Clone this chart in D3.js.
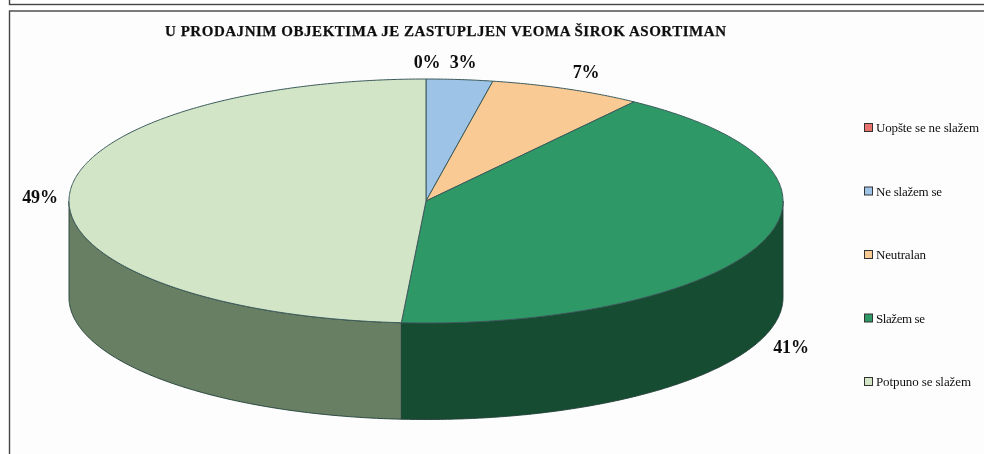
<!DOCTYPE html>
<html><head><meta charset="utf-8">
<script src="https://cdn.jsdelivr.net/npm/d3@7"></script>
<style>html,body{margin:0;padding:0;background:#fff}svg{display:block}text{font-family:"Liberation Serif",serif}</style>
</head><body><svg id="c" width="984" height="454"></svg>
<script>
const title = "U PRODAJNIM OBJEKTIMA JE ZASTUPLJEN VEOMA ŠIROK ASORTIMAN";
const categories = ["Uopšte se ne slažem","Ne slažem se","Neutralan","Slažem se","Potpuno se slažem"];
const values = [0,3,6.9,41.2,48.9];
const labels = ["0%","3%","7%","41%","49%"];
const topColors = ["#e8726c","#9dc3e6","#f9ca94","#2e9966","#d2e5c6"];
const sideColors = ["#8a4340","#5d7589","#957958","#174d31","#677f64"];

const svg = d3.select("#c");
const W=984,H=454;
const defs = svg.append("defs");
const blur = defs.append("filter").attr("id","b").attr("x","-5%").attr("y","-20%").attr("width","110%").attr("height","140%");
blur.append("feGaussianBlur").attr("stdDeviation",0.5);
const soft = defs.append("filter").attr("id","s").attr("x","-2%").attr("y","-2%").attr("width","104%").attr("height","104%");
soft.append("feGaussianBlur").attr("stdDeviation",0.35);

svg.append("rect").attr("width",W).attr("height",H).attr("fill","#fff");
// frames
const frames = svg.append("g").attr("filter","url(#s)");
frames.append("rect").attr("x",9.5).attr("y",-10).attr("width",W).attr("height",14.5).attr("fill","#fff").attr("stroke","#444").attr("stroke-width",1.4);
frames.append("rect").attr("x",9.5).attr("y",11).attr("width",W).attr("height",H+10).attr("fill","#fdfdfd").attr("stroke","#444").attr("stroke-width",1.4);

const x = d3.scaleLinear().domain([-1,1]).range([69,783]);
const y = d3.scaleLinear().domain([-1,1]).range([79,323]);
const depth = 96.5;
const pie = d3.pie().sort(null).value(d=>d);
const arcs = pie(values);
const px = a=>x(Math.sin(a)), py = a=>y(-Math.cos(a));
const line = d3.line();
const sample=(a0,a1)=>{const n=Math.max(2,Math.ceil(Math.abs(a1-a0)/0.01));return d3.range(n+1).map(i=>a0+(a1-a0)*i/n);};
const g = svg.append("g").attr("filter","url(#s)");

// side walls: visible front half, angles from PI/2 to 3PI/2
arcs.forEach((d,i)=>{
  const a0=Math.max(d.startAngle,Math.PI/2),a1=Math.min(d.endAngle,3*Math.PI/2);
  if(a1<=a0) return;
  const s=sample(a0,a1);
  const pts=s.map(a=>[px(a),py(a)]).concat(s.slice().reverse().map(a=>[px(a),py(a)+depth]));
  g.append("path").attr("d",line(pts)+"Z").attr("fill",sideColors[i]).attr("stroke","#1f3d35").attr("stroke-width",0.9).attr("stroke-linejoin","round");
});
// top
arcs.forEach((d,i)=>{
  if(d.endAngle<=d.startAngle) return;
  const pts=[[x(0),y(0)]].concat(sample(d.startAngle,d.endAngle).map(a=>[px(a),py(a)]));
  g.append("path").attr("d",line(pts)+"Z").attr("fill",topColors[i]).attr("stroke","#3c5a5c").attr("stroke-width",1).attr("stroke-linejoin","round");
});

const t = svg.append("g").attr("filter","url(#b)").attr("fill","#111");
t.append("text").attr("x",165).attr("y",36).attr("font-size",15).attr("font-weight","bold").attr("textLength",561).attr("lengthAdjust","spacing").attr("stroke","#111").attr("stroke-width",0.25).text(title);
const labelPos=[[427,68],[463,68],[586,78],[791,353],[40,203]];
labels.forEach((l,i)=>t.append("text").attr("x",labelPos[i][0]).attr("y",labelPos[i][1]).attr("text-anchor","middle").attr("font-size",18).attr("font-weight","bold").attr("letter-spacing",-0.2).text(l));

const legendY=d3.scalePoint().domain(categories).range([128,382]);
const legendWidths=[103,66,50,49,95];
categories.forEach((c,i)=>{
  const yy=legendY(c);
  g.append("rect").attr("x",864.5).attr("y",yy-4.5).attr("width",8).attr("height",8).attr("fill",topColors[i]).attr("stroke","#333").attr("stroke-width",1);
  t.append("text").attr("x",876).attr("y",yy+4).attr("font-size",13).attr("textLength",legendWidths[i]).attr("lengthAdjust","spacing").text(c);
});
</script></body></html>
